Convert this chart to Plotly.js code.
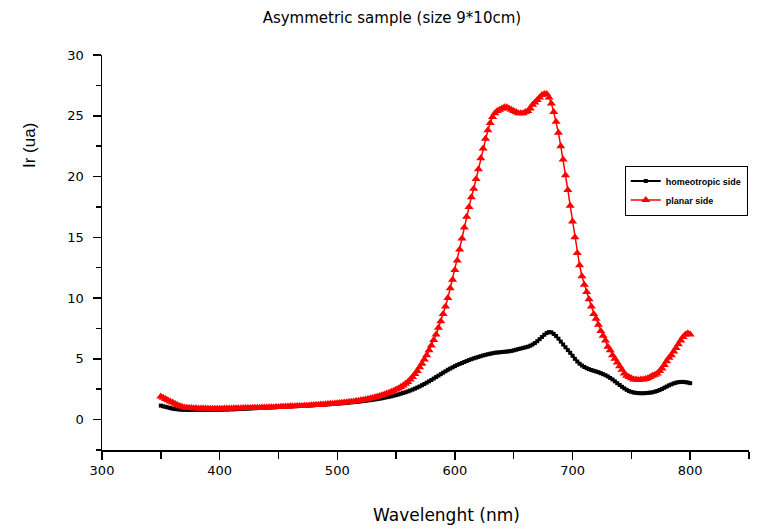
<!DOCTYPE html>
<html>
<head>
<meta charset="utf-8">
<script src="https://cdn.plot.ly/plotly-3.0.1.min.js"></script>
<style>html,body{margin:0;padding:0;background:#fff;}#chart{width:761px;height:529px;}</style>
</head>
<body>
<div id="chart"></div>
<script>
// Wavelength (nm)
const wavelength = [
350,352,354,356,358,360,362,364,366,368,
370,372,374,376,378,380,382,384,386,388,
390,392,394,396,398,400,402,404,406,408,
410,412,414,416,418,420,422,424,426,428,
430,432,434,436,438,440,442,444,446,448,
450,452,454,456,458,460,462,464,466,468,
470,472,474,476,478,480,482,484,486,488,
490,492,494,496,498,500,502,504,506,508,
510,512,514,516,518,520,522,524,526,528,
530,532,534,536,538,540,542,544,546,548,
550,552,554,556,558,560,562,564,566,568,
570,572,574,576,578,580,582,584,586,588,
590,592,594,596,598,600,602,604,606,608,
610,612,614,616,618,620,622,624,626,628,
630,632,634,636,638,640,642,644,646,648,
650,652,654,656,658,660,662,664,666,668,
670,672,674,676,678,680,682,684,686,688,
690,692,694,696,698,700,702,704,706,708,
710,712,714,716,718,720,722,724,726,728,
730,732,734,736,738,740,742,744,746,748,
750,752,754,756,758,760,762,764,766,768,
770,772,774,776,778,780,782,784,786,788,
790,792,794,796,798,800
];

// Ir (ua) - homeotropic side
const homeotropic = [
1.15,1.1,1.05,1.0,0.95,0.9,0.87,0.85,0.83,0.82,
0.81,0.8,0.8,0.8,0.8,0.8,0.8,0.8,0.8,0.8,
0.8,0.8,0.8,0.81,0.81,0.82,0.82,0.83,0.83,0.84,
0.85,0.85,0.86,0.87,0.88,0.89,0.9,0.91,0.92,0.93,
0.94,0.95,0.96,0.97,0.98,0.99,1.0,1.01,1.02,1.03,
1.04,1.05,1.06,1.07,1.08,1.09,1.1,1.11,1.12,1.13,
1.14,1.15,1.16,1.17,1.18,1.19,1.2,1.21,1.22,1.23,
1.25,1.26,1.27,1.29,1.3,1.32,1.33,1.35,1.36,1.38,
1.4,1.42,1.44,1.46,1.48,1.5,1.53,1.55,1.58,1.6,
1.63,1.66,1.69,1.72,1.76,1.8,1.84,1.88,1.92,1.97,
2.02,2.07,2.13,2.19,2.25,2.32,2.39,2.47,2.55,2.64,
2.73,2.83,2.93,3.04,3.15,3.26,3.38,3.5,3.62,3.74,
3.86,3.98,4.1,4.2,4.3,4.4,4.5,4.58,4.66,4.74,
4.82,4.9,4.97,5.04,5.1,5.16,5.22,5.28,5.33,5.38,
5.42,5.46,5.5,5.52,5.54,5.56,5.58,5.6,5.62,5.65,
5.7,5.75,5.8,5.85,5.9,5.95,6.0,6.08,6.18,6.3,
6.45,6.62,6.8,6.98,7.12,7.2,7.18,7.05,6.88,6.66,
6.42,6.18,5.95,5.72,5.5,5.25,5.0,4.78,4.6,4.45,
4.33,4.23,4.15,4.08,4.02,3.96,3.9,3.82,3.74,3.65,
3.55,3.43,3.3,3.15,3.0,2.85,2.7,2.57,2.45,2.35,
2.28,2.23,2.2,2.18,2.17,2.17,2.18,2.2,2.22,2.25,
2.3,2.36,2.43,2.52,2.62,2.72,2.82,2.9,2.98,3.04,
3.08,3.1,3.1,3.08,3.05,3.0
];

// Ir (ua) - planar side
const planar = [
1.9,1.8,1.7,1.6,1.5,1.4,1.3,1.2,1.12,1.05,
1.0,0.98,0.96,0.95,0.94,0.93,0.92,0.92,0.91,0.91,
0.9,0.9,0.9,0.9,0.9,0.9,0.9,0.91,0.91,0.92,
0.92,0.93,0.93,0.94,0.94,0.95,0.95,0.96,0.96,0.97,
0.97,0.98,0.98,0.99,1.0,1.0,1.01,1.02,1.02,1.03,
1.04,1.05,1.06,1.07,1.08,1.09,1.1,1.1,1.11,1.12,
1.13,1.14,1.15,1.17,1.18,1.2,1.21,1.22,1.24,1.25,
1.27,1.28,1.3,1.31,1.33,1.35,1.37,1.39,1.41,1.43,
1.45,1.48,1.5,1.53,1.56,1.59,1.62,1.66,1.7,1.74,
1.78,1.83,1.88,1.94,2.0,2.07,2.14,2.22,2.3,2.38,
2.47,2.57,2.68,2.8,2.95,3.1,3.3,3.5,3.75,4.0,
4.3,4.6,4.95,5.3,5.7,6.1,6.55,7.0,7.55,8.1,
8.7,9.3,10.0,10.8,11.5,12.3,13.1,14.0,14.9,15.8,
16.7,17.5,18.3,19.0,19.8,20.6,21.5,22.3,23.1,23.8,
24.4,24.9,25.2,25.4,25.5,25.6,25.7,25.7,25.6,25.5,
25.4,25.3,25.2,25.2,25.2,25.3,25.4,25.6,25.9,26.1,
26.3,26.5,26.7,26.8,26.8,26.5,26.0,25.3,24.5,23.6,
22.5,21.4,20.1,18.9,17.6,16.3,15.0,13.7,12.7,11.8,
11.1,10.5,9.9,9.3,8.7,8.3,7.8,7.3,6.9,6.5,
6.0,5.7,5.3,5.0,4.7,4.4,4.1,3.8,3.6,3.5,
3.4,3.3,3.3,3.25,3.3,3.3,3.35,3.4,3.5,3.6,
3.7,3.8,4.0,4.2,4.5,4.8,5.1,5.3,5.6,5.9,
6.2,6.5,6.8,7.0,7.1,7.0
];

const seriesNames = ["homeotropic side", "planar side"];
const xTickVals = [300, 400, 500, 600, 700, 800];
const xMinorVals = [350, 450, 550, 650, 750, 850];
const yTickVals = [0, 5, 10, 15, 20, 25, 30];
const yMinorVals = [-2.5, 2.5, 7.5, 12.5, 17.5, 22.5, 27.5];

const FONT = "DejaVu Sans, Liberation Sans, sans-serif";
const FONT2 = "Liberation Sans, Arial, sans-serif";

const traces = [
  {
    x: wavelength, y: homeotropic, name: seriesNames[0],
    type: "scatter", mode: "lines+markers",
    line: {color: "#000000", width: 2},
    marker: {symbol: "square", size: 4, color: "#000000"}
  },
  {
    x: wavelength, y: planar, name: seriesNames[1],
    type: "scatter", mode: "lines+markers",
    line: {color: "#ff0000", width: 1.5},
    marker: {symbol: "triangle-up", size: 8, color: "#ff0000"}
  }
];

const layout = {
  width: 761, height: 529,
  margin: {l: 102, r: 12, t: 55, b: 79, pad: 0},
  paper_bgcolor: "#ffffff", plot_bgcolor: "#ffffff",
  font: {family: FONT, color: "#000000", size: 12},
  title: {
    text: "Asymmetric sample (size 9*10cm)",
    x: 0.515, xref: "container", xanchor: "center",
    y: 0.966, yref: "container", yanchor: "middle",
    font: {family: FONT, size: 15, color: "#000000"}
  },
  showlegend: true,
  legend: {
    x: 0.808, y: 0.72, xanchor: "left", yanchor: "top",
    bgcolor: "#ffffff", bordercolor: "#000000", borderwidth: 1,
    font: {family: FONT2, size: 9, color: "#000000", weight: "bold"},
    itemwidth: 30, tracegroupgap: 0
  },
  xaxis: {
    range: [300, 850], showgrid: false, zeroline: false,
    showline: true, linecolor: "#000000", linewidth: 1.5, mirror: false,
    ticks: "outside", ticklen: 8, tickwidth: 1.5, tickcolor: "#000000",
    tickmode: "array", tickvals: xTickVals, ticktext: xTickVals.map(String),
    tickfont: {family: FONT, size: 13, color: "#000000"},
    minor: {tickmode: "array", tickvals: xMinorVals, ticks: "outside", ticklen: 7, tickwidth: 1.5, tickcolor: "#000000", showgrid: false}
  },
  yaxis: {
    range: [-2.5, 30], showgrid: false, zeroline: false,
    showline: true, linecolor: "#000000", linewidth: 1.5, mirror: false,
    ticks: "outside", ticklen: 8, tickwidth: 1.5, tickcolor: "#000000",
    tickmode: "array", tickvals: yTickVals, ticktext: yTickVals.map(String),
    ticklabelstandoff: 6,
    tickfont: {family: FONT, size: 13, color: "#000000"},
    minor: {tickmode: "array", tickvals: yMinorVals, ticks: "outside", ticklen: 5, tickwidth: 1.5, tickcolor: "#000000", showgrid: false}
  },
  annotations: [
    {
      text: "Wavelenght (nm)", xref: "paper", yref: "paper",
      x: 0.532, y: -0.165, xanchor: "center", yanchor: "middle",
      showarrow: false, font: {family: FONT, size: 17, color: "#000000"}
    },
    {
      text: "Ir (ua)", xref: "paper", yref: "paper",
      x: -0.111, y: 0.77, xanchor: "center", yanchor: "middle",
      textangle: -90, showarrow: false,
      font: {family: FONT2, size: 17, color: "#000000"}
    }
  ]
};

Plotly.newPlot("chart", traces, layout, {displayModeBar: false, staticPlot: true});
</script>
</body>
</html>
